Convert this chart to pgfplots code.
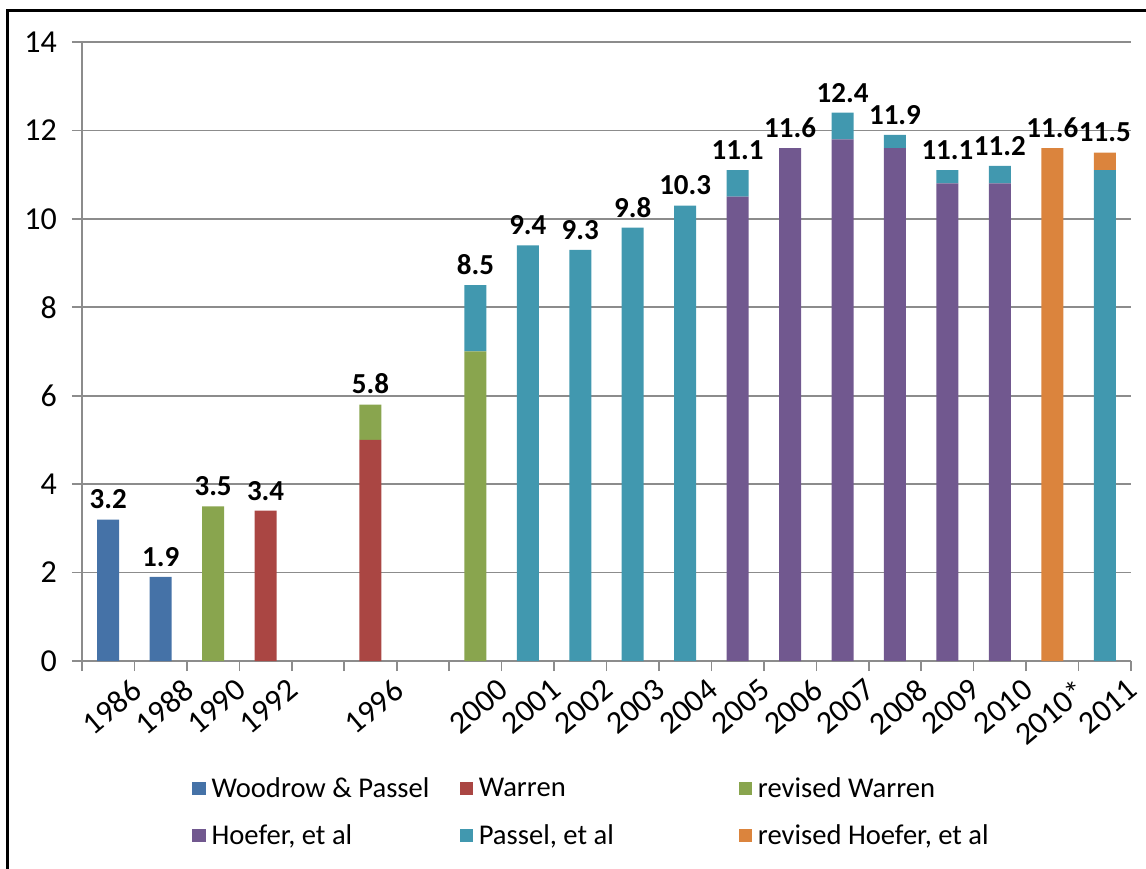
\documentclass[border=0pt]{standalone}
\usepackage{fontspec}
\setmainfont{Carlito}
\usepackage{pgfplots}
\usepackage{pgfplotstable}
\pgfplotsset{compat=1.18}

\definecolor{cWood}{HTML}{4572A7}
\definecolor{cWarr}{HTML}{AA4643}
\definecolor{cRWarr}{HTML}{89A54E}
\definecolor{cHoef}{HTML}{71588F}
\definecolor{cPass}{HTML}{4198AF}
\definecolor{cRHoef}{HTML}{DB843D}
\definecolor{gridgray}{HTML}{8C8C8C}

\newcommand\tickfont{\fontsize{16}{19}\selectfont}
\newcommand\legfont{\fontsize{14.3}{17}\selectfont}

% x = slot (gaps left at 1994 and 1998); lbl = total
\pgfplotstableread{
x  wood wa  rwa  hoef pass rhoef lbl
0  3.2  0   0    0    0    0     3.2
1  1.9  0   0    0    0    0     1.9
2  0    0   3.5  0    0    0     3.5
3  0    3.4 0    0    0    0     3.4
5  0    5.0 0.8  0    0    0     5.8
7  0    0   7.0  0    1.5  0     8.5
8  0    0   0    0    9.4  0     9.4
9  0    0   0    0    9.3  0     9.3
10 0    0   0    0    9.8  0     9.8
11 0    0   0    0    10.3 0     10.3
12 0    0   0    10.5 0.6  0     11.1
13 0    0   0    11.6 0    0     11.6
14 0    0   0    11.8 0.6  0     12.4
15 0    0   0    11.6 0.3  0     11.9
16 0    0   0    10.8 0.3  0     11.1
17 0    0   0    10.8 0.4  0     11.2
18 0    0   0    0    0    11.6  11.6
19 0    0   0    0    11.1 0.4   11.5
}\datatable

\pgfplotsset{
  base/.style={
    at={(0,0)}, anchor=south west,
    scale only axis,
    width=524.5pt, height=309.5pt,
    xmin=-0.5, xmax=19.5,
    ymin=0, ymax=14,
  },
}

\begin{document}
\begin{tikzpicture}
\useasboundingbox (-41pt,-103.5pt) rectangle (532pt,330.5pt);
\draw[line width=1.5pt] (-37pt,-120pt) -- (-37pt,325pt) -- (545pt,325pt);
\begin{axis}[
  base,
  ybar stacked,
  bar width=11pt,
  ytick={0,2,...,14},
  xtick={-0.5,0.5,...,19.5},
  xticklabels={},
  extra x ticks={0,1,2,3,5,7,8,9,10,11,12,13,14,15,16,17,18,19},
  extra x tick labels={1986,1988,1990,1992,1996,2000,2001,2002,2003,2004,2005,2006,2007,2008,2009,2010,2010*,2011},
  extra x tick style={major tick length=0pt, grid=none},
  every tick label/.append style={font=\tickfont},
  xticklabel style={rotate=40, anchor=north east, inner sep=1pt, yshift=-12pt, xshift=4pt},
  yticklabel style={xshift=-4pt},
  axis x line*=bottom,
  axis y line*=left,
  axis line style={gridgray, line width=0.8pt, -},
  tick style={gridgray, line width=0.8pt},
  tick align=outside,
  major tick length=5pt,
  ymajorgrids,
  grid style={gridgray, line width=0.8pt},
  /pgf/number format/assume math mode=true,
  legend columns=3,
  legend cell align=left,
  legend style={draw=none, fill=none, at={(0,0)}, anchor=north west,
    xshift=52pt, yshift=-54pt,
    font=\legfont,
    row sep=8pt, column sep=0pt,
    /tikz/every odd column/.append style={column sep=1pt}},
  legend image code/.code={\fill[#1] (0pt,-3.3pt) rectangle (6.6pt,3.3pt);},
]
\addplot[fill=cWood, draw=none] table[x=x, y=wood] {\datatable};
\addplot[fill=cWarr, draw=none] table[x=x, y=wa] {\datatable};
\addplot[fill=cRWarr, draw=none] table[x=x, y=rwa] {\datatable};
\addplot[fill=cHoef, draw=none] table[x=x, y=hoef] {\datatable};
\addplot[fill=cPass, draw=none] table[x=x, y=pass] {\datatable};
\addplot[fill=cRHoef, draw=none] table[x=x, y=rhoef] {\datatable};
\legend{\makebox[122pt][l]{Woodrow \& Passel},\makebox[128pt][l]{Warren},revised Warren,
        \makebox[122pt][l]{Hoefer, et al},\makebox[128pt][l]{Passel, et al},{revised Hoefer, et al}}
\end{axis}
% total labels on top of the stacks
\begin{axis}[base, hide axis]
\addplot[draw=none, mark=none,
  nodes near coords={\pgfplotspointmeta},
  point meta=explicit symbolic,
  every node near coord/.append style={font=\bfseries\fontsize{14.5}{17}\selectfont,
    text=black, anchor=south, inner sep=1pt, yshift=4pt}
  ] table[x=x, y=lbl, meta=lbl] {\datatable};
\end{axis}
\end{tikzpicture}
\end{document}
